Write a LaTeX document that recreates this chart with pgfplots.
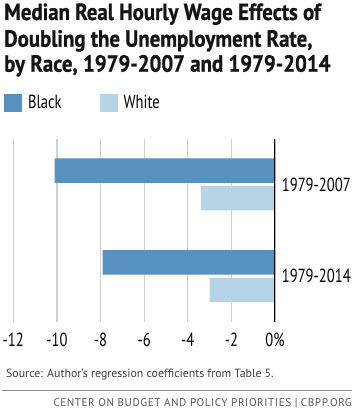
\documentclass[border=0pt]{standalone}
\usepackage{fontspec}
\setmainfont{PT Sans}
\newfontfamily\condfont{PT Sans}[FakeStretch=0.77]
\newfontfamily\titlefont{PT Sans Bold}[FakeStretch=0.89, FakeBold=0.8]
\usepackage{pgfplots}
\pgfplotsset{compat=1.18}
\definecolor{cblack}{RGB}{87,145,192}
\definecolor{cwhite}{RGB}{183,211,230}
\definecolor{gridc}{RGB}{208,208,208}
\begin{document}
\begin{tikzpicture}[x=1bp,y=1bp]
\useasboundingbox (0,0) rectangle (353,410);
\fill[white] (0,0) rectangle (353,410);
\node[anchor=base west, inner sep=0pt, font=\titlefont\fontsize{23.5}{26}\selectfont, text=black!92] at (4,390) {Median Real Hourly Wage Effects of};
\node[anchor=base west, inner sep=0pt, font=\titlefont\fontsize{23.5}{26}\selectfont, text=black!92] at (4,363.3) {Doubling the Unemployment Rate,};
\node[anchor=base west, inner sep=0pt, font=\titlefont\fontsize{23.5}{26}\selectfont, text=black!92] at (4,338.3) {by Race, 1979-2007 and 1979-2014};
\begin{axis}[
  at={(13.3bp,88bp)}, anchor=south west,
  width=261.7bp, height=183.4bp, scale only axis,
  xmin=-12, xmax=0, ymin=-0.5, ymax=1.5,
  xbar, bar width=24.3bp,
  axis line style={draw=none},
  major tick length=0pt,
  xtick={-12,-10,-8,-6,-4,-2,0},
  xticklabels={-12,-10,-8,-6,-4,-2,0\%},
  xmajorgrids, grid style={gridc, line width=1.3bp},
  ytick={0,1}, yticklabels={1979-2014,1979-2007},
  yticklabel pos=right,
  ticklabel style={font=\condfont\fontsize{19}{21}\selectfont, text=black},
  xticklabel style={anchor=north, inner sep=0pt, yshift=-11bp},
  yticklabel style={anchor=west, inner sep=0pt, xshift=6.7bp},
  legend style={at={(rel axis cs:-0.0355,1.194)}, anchor=west, draw=none, fill=none,
    inner sep=0pt, outer sep=0pt, nodes={inner sep=0pt},
    font=\condfont\fontsize{19}{21}\selectfont,
    /tikz/every odd column/.append style={column sep=6bp},
    /tikz/every even column/.append style={column sep=38bp}},
  legend columns=2,
  legend image code/.code={\fill[#1] (0bp,-9bp) rectangle (18bp,9bp);},
]
\addplot[fill=cblack, draw=none, bar shift=13.8bp] coordinates {(-7.9,0) (-10.1,1)};
\addplot[fill=cwhite, draw=none, bar shift=-13.8bp] coordinates {(-3.0,0) (-3.4,1)};
\draw[black, line width=1.2bp] (axis cs:0,-0.5) -- (axis cs:0,1.5);
\legend{Black,White}
\end{axis}
\node[anchor=base west, inner sep=0pt, font=\fontsize{11.9}{14}\selectfont, text=black!75] at (6,33) {Source: Author's regression coefficients from Table 5.};
\draw[black!45, line width=1bp] (2,19) -- (352,19);
\node[anchor=base east, inner sep=0pt, font=\addfontfeature{LetterSpace=5}\fontsize{11.2}{13}\selectfont, text=black!65] at (352,3.2) {CENTER ON BUDGET AND POLICY PRIORITIES | CBPP.ORG};
\end{tikzpicture}
\end{document}
